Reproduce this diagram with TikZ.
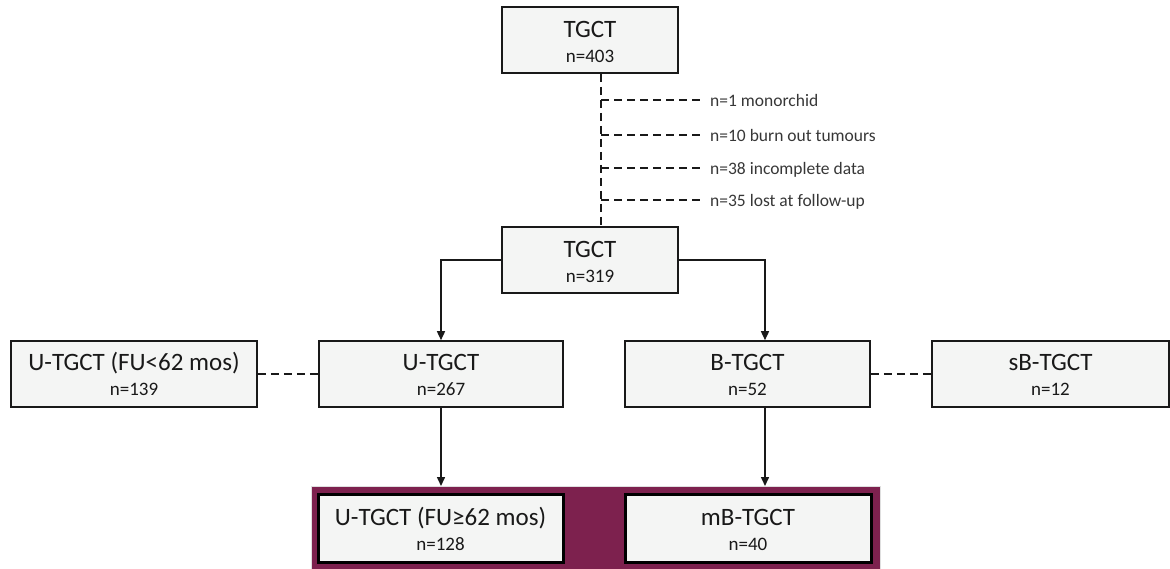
\documentclass[tikz,border=0pt]{standalone}
\usepackage{fontspec}
\setmainfont{Carlito}
\usetikzlibrary{arrows.meta,calc}
\definecolor{boxfill}{RGB}{244,245,244}
\definecolor{boxline}{RGB}{25,25,25}
\definecolor{plum}{RGB}{125,33,78}
\definecolor{notecol}{RGB}{55,55,55}
\begin{document}
\begin{tikzpicture}[x=1pt,y=-1pt,
  box/.style={draw=boxline,line width=1.6pt,fill=boxfill,inner sep=0pt},
  thickbox/.style={box,line width=3pt,draw=black},
  ttl/.style={anchor=base,inner sep=0pt,font=\fontsize{25}{28}\selectfont,text=boxline},
  cnt/.style={anchor=base,inner sep=0pt,font=\fontsize{19}{22}\selectfont,text=boxline},
  note/.style={anchor=base west,inner sep=0pt,font=\fontsize{17.5}{20}\selectfont,text=notecol},
  dashline/.style={draw=boxline,line width=1.6pt,dash pattern=on 8pt off 5pt},
  arr/.style={draw=boxline,line width=1.5pt,-{Triangle[length=9pt,width=8pt]}},
]
\useasboundingbox (0,0) rectangle (1170,568);
% purple band
\node[fill=plum,draw=gray!25,line width=0.8pt,inner sep=0pt,anchor=north west,
      minimum width=569pt,minimum height=90pt] (pur) at (311,486) {};
% boxes
\node[box,minimum width=176pt,minimum height=66pt] (top) at (590,40) {};
\node[box,minimum width=176pt,minimum height=66pt] (mid) at (590,260) {};
\node[box,minimum width=246pt,minimum height=66pt] (ushort) at (134,374) {};
\node[box,minimum width=244pt,minimum height=66pt] (u) at (441,374) {};
\node[box,minimum width=245pt,minimum height=66pt] (b) at (747.5,374) {};
\node[box,minimum width=237pt,minimum height=66pt] (sb) at (1050.5,374) {};
\node[thickbox,minimum width=245pt,minimum height=68pt] (ulong) at (440.5,528) {};
\node[thickbox,minimum width=246pt,minimum height=68pt] (mb) at (748,528) {};
% texts
\node[ttl] (top-t) at ($(top.center)+(0,-3)$) {TGCT};
\node[cnt] (top-n) at ($(top.center)+(0,22.5)$) {n=403};
\node[ttl] (mid-t) at ($(mid.center)+(0,-3)$) {TGCT};
\node[cnt] (mid-n) at ($(mid.center)+(0,22.5)$) {n=319};
\node[ttl] (ushort-t) at ($(ushort.center)+(0,-3.5)$) {U-TGCT (FU<62 mos)};
\node[cnt] (ushort-n) at ($(ushort.center)+(0,21.5)$) {n=139};
\node[ttl] (u-t) at ($(u.center)+(0,-3.5)$) {U-TGCT};
\node[cnt] (u-n) at ($(u.center)+(0,21.5)$) {n=267};
\node[ttl] (b-t) at ($(b.center)+(0,-3.5)$) {B-TGCT};
\node[cnt] (b-n) at ($(b.center)+(0,21.5)$) {n=52};
\node[ttl] (sb-t) at ($(sb.center)+(0,-3.5)$) {sB-TGCT};
\node[cnt] (sb-n) at ($(sb.center)+(0,21.5)$) {n=12};
\node[ttl] (ulong-t) at ($(ulong.center)+(0,-3)$) {U-TGCT (FU≥62 mos)};
\node[cnt] (ulong-n) at ($(ulong.center)+(0,22)$) {n=128};
\node[ttl] (mb-t) at ($(mb.center)+(0,-3)$) {mB-TGCT};
\node[cnt] (mb-n) at ($(mb.center)+(0,22)$) {n=40};
% exclusion notes
\node[note] (n1) at (710,106) {n=1 monorchid};
\node[note] (n2) at (710,141) {n=10 burn out tumours};
\node[note] (n3) at (710,174) {n=38 incomplete data};
\node[note] (n4) at (710,206) {n=35 lost at follow-up};
\coordinate (vx) at (601,150);
\coordinate (bx) at (765,300);
% connectors
\draw[dashline] (top.south -| vx) -- (mid.north -| vx);
\draw[dashline] (vx |- 0,100) -- ([xshift=-7pt]n1.base west |- 0,100);
\draw[dashline] (vx |- 0,135) -- ([xshift=-7pt]n2.base west |- 0,135);
\draw[dashline] (vx |- 0,168) -- ([xshift=-7pt]n3.base west |- 0,168);
\draw[dashline] (vx |- 0,200) -- ([xshift=-7pt]n4.base west |- 0,200);
\draw[arr] (mid.west) -| (u.north);
\draw[arr] (mid.east) -| (b.north -| bx);
\draw[arr] (u.south) -- (u.south |- pur.north);
\draw[arr] (b.south -| bx) -- (pur.north -| bx);
\draw[dashline] (ushort.east) -- (u.west);
\draw[dashline] (b.east) -- (sb.west);
\end{tikzpicture}
\end{document}
